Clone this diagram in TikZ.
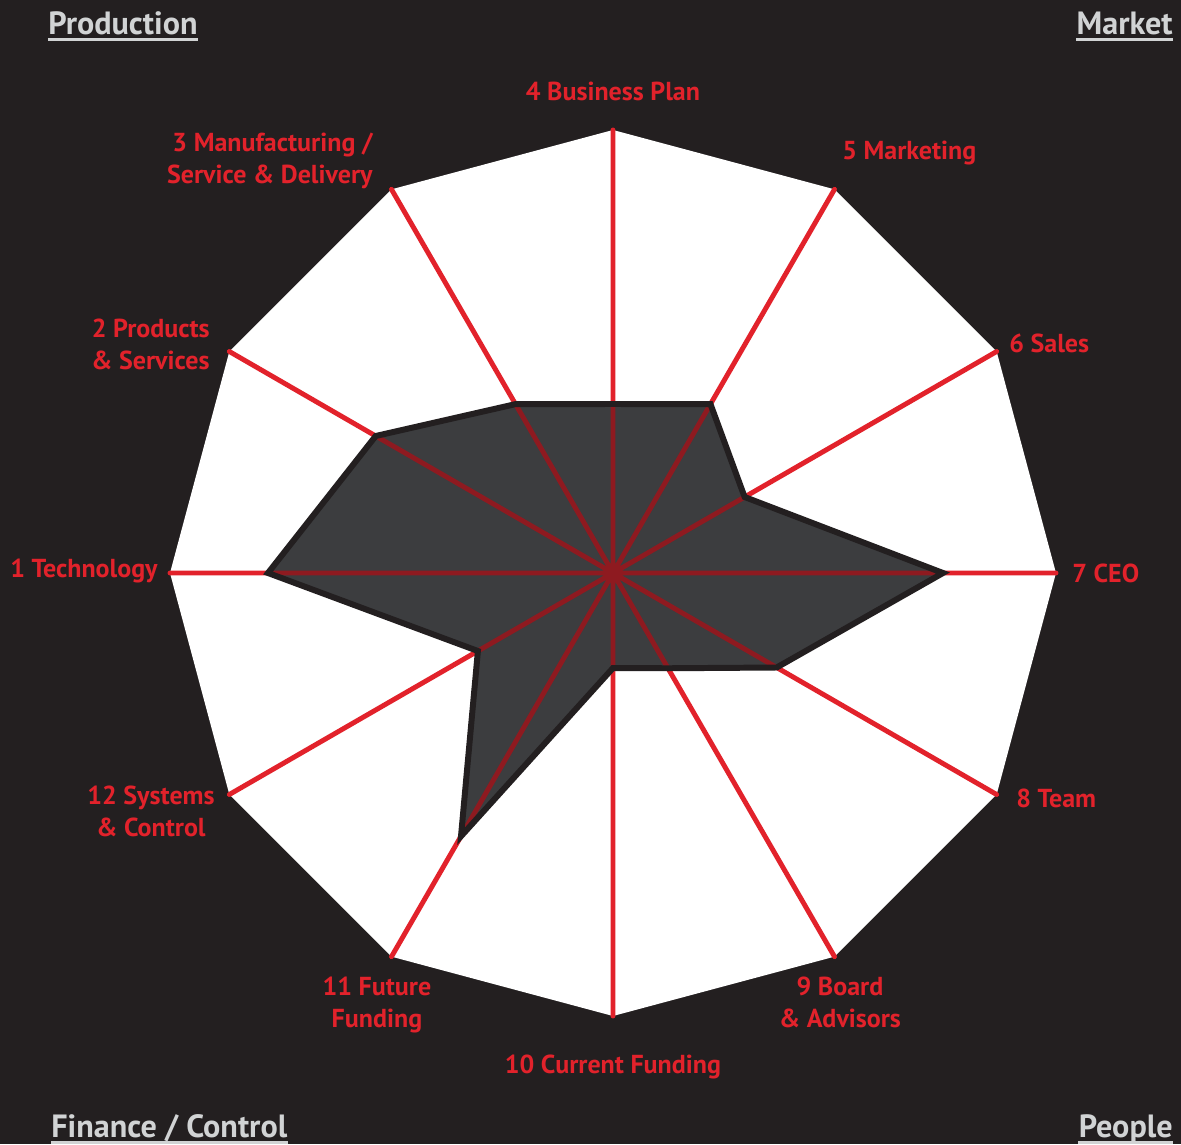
\documentclass[tikz,border=0pt]{standalone}
\usepackage{fontspec}
\setsansfont{PT Sans}
\usetikzlibrary{backgrounds}
\definecolor{bg}{HTML}{231F20}
\definecolor{spokered}{HTML}{E2222B}
\definecolor{darkred}{HTML}{8E1A20}
\definecolor{scoregrey}{HTML}{3C3D3F}
\definecolor{cornergrey}{HTML}{D1D3D4}
\tikzset{
    web/.style={fill=white},
    spoke/.style={draw=spokered, line width=2.8pt, line cap=round},
    inspoke/.style={draw=darkred, line width=2.8pt},
    score/.style={fill=scoregrey},
    rim/.style={draw=bg, line width=3.4pt, line join=miter},
    lbl/.style={text=spokered, inner sep=0pt, font=\sffamily\bfseries\fontsize{14.8}{18.1}\selectfont},
    corner/.style={text=cornergrey, inner sep=0pt, font=\sffamily\bfseries\fontsize{18.3}{20}\selectfont},
    uline/.style={draw=cornergrey, line width=1.7pt},
}
\begin{document}
\begin{tikzpicture}[x=0.02cm, y=0.02cm]
\path[use as bounding box, fill=bg] (-613,-571) rectangle (568,573);
\def\R{443}
% outer web
\coordinate (o) at (0,0);
\coordinate (v1) at (180:\R);
\coordinate (v2) at (150:\R);
\coordinate (v3) at (120:\R);
\coordinate (v4) at (90:\R);
\coordinate (v5) at (60:\R);
\coordinate (v6) at (30:\R);
\coordinate (v7) at (0:\R);
\coordinate (v8) at (-30:\R);
\coordinate (v9) at (-60:\R);
\coordinate (v10) at (-90:\R);
\coordinate (v11) at (-120:\R);
\coordinate (v12) at (-150:\R);
% scores
\coordinate (d1) at (180:345);
\coordinate (d2) at (150:274);
\coordinate (d3) at (120:195);
\coordinate (d4) at (90:169);
\coordinate (d5) at (60:195);
\coordinate (d6) at (30:152);
\coordinate (d7) at (0:330);
\coordinate (d8) at (-30:189);
\coordinate (d9) at (-60:110);
\coordinate (d10) at (-90:95);
\coordinate (d11) at (-120:304);
\coordinate (d12) at (-150:156);
\path[web] (v1) -- (v2) -- (v3) -- (v4) -- (v5) -- (v6) -- (v7) -- (v8)
    -- (v9) -- (v10) -- (v11) -- (v12) -- cycle;
\draw[spoke] (o) -- (v1) (o) -- (v2) (o) -- (v3) (o) -- (v4) (o) -- (v5)
    (o) -- (v6) (o) -- (v7) (o) -- (v8) (o) -- (v9) (o) -- (v10) (o) -- (v11)
    (o) -- (v12);
\path[score] (d1) -- (d2) -- (d3) -- (d4) -- (d5) -- (d6) -- (d7) -- (d8)
    -- (d9) -- (d10) -- (d11) -- (d12) -- cycle;
\begin{scope}
    \clip (d1) -- (d2) -- (d3) -- (d4) -- (d5) -- (d6) -- (d7) -- (d8)
        -- (d9) -- (d10) -- (d11) -- (d12) -- cycle;
    \draw[inspoke] (o) -- (v1) (o) -- (v2) (o) -- (v3) (o) -- (v4) (o) -- (v5)
        (o) -- (v6) (o) -- (v7) (o) -- (v8) (o) -- (v9) (o) -- (v10) (o) -- (v11)
        (o) -- (v12);
\end{scope}
\draw[rim] (d1) -- (d2) -- (d3) -- (d4) -- (d5) -- (d6) -- (d7) -- (d8)
    -- (d9) -- (d10) -- (d11) -- (d12) -- cycle;
% axis labels
\node[lbl, anchor=base east] (l1) at (-455,-4) {1 Technology};
\node[lbl, anchor=base east, align=right] (l2) at (-403,204) {2 Products\\\& Services};
\node[lbl, anchor=base east, align=right] (l3) at (-240,390) {3 Manufacturing /\\Service \& Delivery};
\node[lbl, anchor=base] (l4) at (0,473) {4 Business Plan};
\node[lbl, anchor=base west] (l5) at (229,414) {5 Marketing};
\node[lbl, anchor=base west] (l6) at (396,221) {6 Sales};
\node[lbl, anchor=base west] (l7) at (459,-9) {7 CEO};
\node[lbl, anchor=base west] (l8) at (403,-234) {8 Team};
\node[lbl, anchor=base, align=center] (l9) at (227,-454) {9 Board\\\& Advisors};
\node[lbl, anchor=base] (l10) at (0,-500) {10 Current Funding};
\node[lbl, anchor=base, align=center] (l11) at (-236,-454) {11 Future\\Funding};
\node[lbl, anchor=base, align=center] (l12) at (-462,-263) {12 Systems\\\& Control};
% corners
\node[corner, anchor=base west] (prod) at (-565,539) {Production};
\node[corner, anchor=base east] (mark) at (560,539) {Market};
\node[corner, anchor=base west] (fin) at (-562,-564) {Finance / Control};
\node[corner, anchor=base east] (peop) at (560,-564) {People};
\draw[uline] ([yshift=-3.4pt]prod.base west) -- ([yshift=-3.4pt]prod.base east);
\draw[uline] ([yshift=-3.4pt]mark.base west) -- ([yshift=-3.4pt]mark.base east);
\draw[uline] ([yshift=-3.4pt]fin.base west) -- ([yshift=-3.4pt]fin.base east);
\draw[uline] ([yshift=-3.4pt]peop.base west) -- ([yshift=-3.4pt]peop.base east);
\end{tikzpicture}
\end{document}
